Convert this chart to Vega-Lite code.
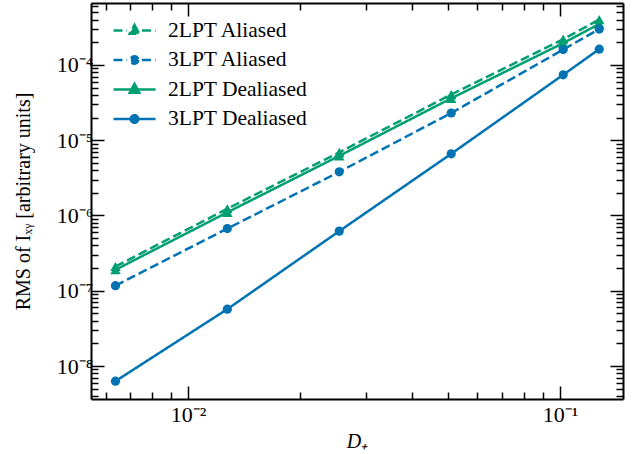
{
  "$schema": "https://vega.github.io/schema/vega-lite/v6.json",
  "width": 532,
  "height": 396,
  "autosize": {"type": "none"},
  "padding": {"left": 91, "top": 3, "right": 10, "bottom": 55},
  "background": "white",
  "data": {"values": [
    {"series": "2LPT Aliased", "D": 0.00638, "rms": 2.1e-7},
    {"series": "2LPT Aliased", "D": 0.01275, "rms": 1.23e-6},
    {"series": "2LPT Aliased", "D": 0.0255, "rms": 6.9e-6},
    {"series": "2LPT Aliased", "D": 0.051, "rms": 4.05e-5},
    {"series": "2LPT Aliased", "D": 0.102, "rms": 2.2e-4},
    {"series": "2LPT Aliased", "D": 0.1275, "rms": 4.0e-4},
    {"series": "3LPT Aliased", "D": 0.00638, "rms": 1.17e-7},
    {"series": "3LPT Aliased", "D": 0.01275, "rms": 6.7e-7},
    {"series": "3LPT Aliased", "D": 0.0255, "rms": 3.8e-6},
    {"series": "3LPT Aliased", "D": 0.051, "rms": 2.3e-5},
    {"series": "3LPT Aliased", "D": 0.102, "rms": 1.6e-4},
    {"series": "3LPT Aliased", "D": 0.1275, "rms": 3.0e-4},
    {"series": "2LPT Dealiased", "D": 0.00638, "rms": 1.9e-7},
    {"series": "2LPT Dealiased", "D": 0.01275, "rms": 1.1e-6},
    {"series": "2LPT Dealiased", "D": 0.0255, "rms": 6.2e-6},
    {"series": "2LPT Dealiased", "D": 0.051, "rms": 3.6e-5},
    {"series": "2LPT Dealiased", "D": 0.102, "rms": 1.95e-4},
    {"series": "2LPT Dealiased", "D": 0.1275, "rms": 3.5e-4},
    {"series": "3LPT Dealiased", "D": 0.00638, "rms": 6.3e-9},
    {"series": "3LPT Dealiased", "D": 0.01275, "rms": 5.7e-8},
    {"series": "3LPT Dealiased", "D": 0.0255, "rms": 6.2e-7},
    {"series": "3LPT Dealiased", "D": 0.051, "rms": 6.6e-6},
    {"series": "3LPT Dealiased", "D": 0.102, "rms": 7.4e-5},
    {"series": "3LPT Dealiased", "D": 0.1275, "rms": 1.62e-4}
  ]},
  "layer": [
    {
      "layer": [
        {
          "mark": {"type": "line", "strokeWidth": 2.5},
          "encoding": {
            "x": {"field": "D", "type": "quantitative",
              "scale": {"type": "log", "domain": [0.005483, 0.1477], "nice": false},
              "axis": {
                "orient": "bottom",
                "values": [0.006, 0.007, 0.008, 0.009, 0.01, 0.02, 0.03, 0.04, 0.05, 0.06, 0.07, 0.08, 0.09, 0.1],
                "labelExpr": "abs(log(datum.value)/LN10 - round(log(datum.value)/LN10)) < 0.001 ? '10⁻' + ['⁰','¹','²','³','⁴','⁵','⁶','⁷','⁸','⁹'][-round(log(datum.value)/LN10)] : ''",
                "tickSize": {"condition": {"test": "abs(log(datum.value)/LN10 - round(log(datum.value)/LN10)) < 0.001", "value": -13}, "value": -7},
                "labelPadding": 18,
                "labelFont": "Liberation Serif",
                "labelFontSize": 22,
                "labelFlush": false,
                "labelOverlap": false,
                "title": "D₊",
                "titleFontStyle": "italic",
                "titlePadding": 0
              }},
            "y": {"field": "rms", "type": "quantitative",
              "scale": {"type": "log", "domain": [3.65e-9, 6.65e-4], "nice": false},
              "axis": {
                "orient": "left",
                "values": [4e-9, 5e-9, 6e-9, 7e-9, 8e-9, 9e-9, 1e-8, 2e-8, 3e-8, 4e-8, 5e-8, 6e-8, 7e-8, 8e-8, 9e-8, 1e-7, 2e-7, 3e-7, 4e-7, 5e-7, 6e-7, 7e-7, 8e-7, 9e-7, 1e-6, 2e-6, 3e-6, 4e-6, 5e-6, 6e-6, 7e-6, 8e-6, 9e-6, 1e-5, 2e-5, 3e-5, 4e-5, 5e-5, 6e-5, 7e-5, 8e-5, 9e-5, 1e-4, 2e-4, 3e-4, 4e-4, 5e-4, 6e-4],
                "labelExpr": "abs(log(datum.value)/LN10 - round(log(datum.value)/LN10)) < 0.001 ? '10⁻' + ['⁰','¹','²','³','⁴','⁵','⁶','⁷','⁸','⁹'][-round(log(datum.value)/LN10)] : ''",
                "tickSize": {"condition": {"test": "abs(log(datum.value)/LN10 - round(log(datum.value)/LN10)) < 0.001", "value": -13}, "value": -7},
                "labelPadding": 11,
                "labelFont": "Liberation Serif",
                "labelFontSize": 22,
                "labelFlush": false,
                "labelOverlap": false,
                "title": "RMS of Iₓᵧ [arbitrary units]",
                "titlePadding": 23
              }},
            "color": {"field": "series", "type": "nominal",
              "scale": {"domain": ["2LPT Aliased", "3LPT Aliased", "2LPT Dealiased", "3LPT Dealiased"], "range": ["#029e73", "#0173b2", "#029e73", "#0173b2"]},
              "legend": {
                "orient": "none", "legendX": 27, "legendY": 11, "title": null,
                "labelFont": "Liberation Serif", "labelFontSize": 21.5, "labelColor": "black",
                "symbolSize": 900, "symbolStrokeWidth": 2.5, "labelOffset": 17, "rowPadding": 2.5, "padding": 0,
                "encode": {"symbols": {"update": {
                  "shape": {"signal": "datum.value == '2LPT Aliased' ? 'M-1.4,0H-0.5M0.5,0H1.4M0,-0.38L0.32,0.22L-0.32,0.22Z' : datum.value == '3LPT Aliased' ? 'M-1.4,0H-0.5M0.5,0H1.4M0.25,0A0.25,0.25,0,1,1,-0.25,0A0.25,0.25,0,1,1,0.25,0Z' : datum.value == '2LPT Dealiased' ? 'M-1.4,0H1.4M0,-0.38L0.32,0.22L-0.32,0.22Z' : 'M-1.4,0H1.4M0.25,0A0.25,0.25,0,1,1,-0.25,0A0.25,0.25,0,1,1,0.25,0Z'"},
                  "fill": {"signal": "scale('color', datum.value)"},
                  "stroke": {"signal": "scale('color', datum.value)"},
                  "fillOpacity": {"value": 1},
                  "strokeDash": {"value": [1, 0]}
                }}}
              }},
            "strokeDash": {"field": "series", "type": "nominal",
              "scale": {"domain": ["2LPT Aliased", "3LPT Aliased", "2LPT Dealiased", "3LPT Dealiased"], "range": [[9, 4], [9, 4], [1, 0], [1, 0]]},
              "legend": null}
          }
        },
        {
          "transform": [{"filter": "indexof(datum.series, '2LPT') == 0"}],
          "mark": {"type": "point", "shape": "triangle-up", "filled": true, "size": 110, "opacity": 1},
          "encoding": {
            "x": {"field": "D", "type": "quantitative"},
            "y": {"field": "rms", "type": "quantitative"},
            "color": {"field": "series", "type": "nominal"}
          }
        },
        {
          "transform": [{"filter": "indexof(datum.series, '3LPT') == 0"}],
          "mark": {"type": "point", "shape": "circle", "filled": true, "size": 85, "opacity": 1},
          "encoding": {
            "x": {"field": "D", "type": "quantitative"},
            "y": {"field": "rms", "type": "quantitative"},
            "color": {"field": "series", "type": "nominal"}
          }
        }
      ]
    },
    {
      "mark": {"type": "point", "opacity": 0},
      "encoding": {
        "x": {"field": "D", "type": "quantitative",
          "scale": {"type": "log", "domain": [0.005483, 0.1477], "nice": false},
          "axis": {
            "orient": "top",
            "values": [0.006, 0.007, 0.008, 0.009, 0.01, 0.02, 0.03, 0.04, 0.05, 0.06, 0.07, 0.08, 0.09, 0.1],
            "labels": false,
            "tickSize": {"condition": {"test": "abs(log(datum.value)/LN10 - round(log(datum.value)/LN10)) < 0.001", "value": -13}, "value": -7},
            "title": null
          }},
        "y": {"field": "rms", "type": "quantitative",
          "scale": {"type": "log", "domain": [3.65e-9, 6.65e-4], "nice": false},
          "axis": {
            "orient": "right",
            "values": [4e-9, 5e-9, 6e-9, 7e-9, 8e-9, 9e-9, 1e-8, 2e-8, 3e-8, 4e-8, 5e-8, 6e-8, 7e-8, 8e-8, 9e-8, 1e-7, 2e-7, 3e-7, 4e-7, 5e-7, 6e-7, 7e-7, 8e-7, 9e-7, 1e-6, 2e-6, 3e-6, 4e-6, 5e-6, 6e-6, 7e-6, 8e-6, 9e-6, 1e-5, 2e-5, 3e-5, 4e-5, 5e-5, 6e-5, 7e-5, 8e-5, 9e-5, 1e-4, 2e-4, 3e-4, 4e-4, 5e-4, 6e-4],
            "labels": false,
            "tickSize": {"condition": {"test": "abs(log(datum.value)/LN10 - round(log(datum.value)/LN10)) < 0.001", "value": -13}, "value": -7},
            "title": null
          }}
      }
    }
  ],
  "resolve": {"scale": {"x": "independent", "y": "independent"}},
  "config": {
    "view": {"stroke": null},
    "axis": {
      "grid": false,
      "domainColor": "black", "domainWidth": 2,
      "tickColor": "black", "tickWidth": 1.5,
      "labelFont": "Liberation Serif", "labelFontSize": 20, "labelColor": "black",
      "titleFont": "Liberation Serif", "titleFontSize": 20, "titleColor": "black", "titleFontWeight": "normal"
    }
  }
}
